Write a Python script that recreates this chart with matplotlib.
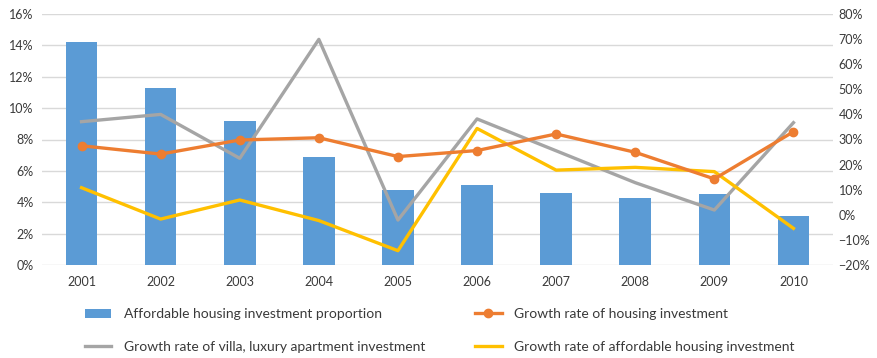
# affordable housing investment share vs. growth rates, 2001-2010

import numpy as np
import matplotlib.pyplot as plt
from matplotlib.ticker import PercentFormatter

plt.rcParams['font.family'] = ['Lato', 'DejaVu Sans']

years = ['2001', '2002', '2003', '2004', '2005', '2006', '2007', '2008', '2009', '2010']
affordable_share = [14.2, 11.3, 9.2, 6.9, 4.8, 5.1, 4.6, 4.3, 4.5, 3.1]
housing_growth = [27.5, 24.2, 29.8, 30.7, 23.2, 25.6, 32.2, 24.9, 14.3, 33.1]
villa_growth = [37.1, 40.0, 22.5, 69.9, -2.1, 38.2, 25.5, 12.8, 1.9, 36.7]
affordable_growth = [10.8, -1.7, 5.9, -2.3, -14.3, 34.4, 17.8, 18.9, 17.2, -5.4]

blue = '#5B9BD5'
orange = '#ED7D31'
grey = '#A5A5A5'
gold = '#FFC000'
text_col = '#3A3A3A'

fig = plt.figure(figsize=(8.78, 3.58), dpi=100)
ax = fig.add_axes([42/878, 93/358, 791/878, 251/358])
ax2 = ax.twinx()

x = np.arange(len(years))
b = ax.bar(x, affordable_share, width=0.4, color=blue, zorder=2,
           label='Affordable housing investment proportion')

l1, = ax2.plot(x, housing_growth, color=orange, lw=2.4, marker='o', ms=6,
               label='Growth rate of housing investment', zorder=4)
l2, = ax2.plot(x, villa_growth, color=grey, lw=2.4,
               label='Growth rate of villa, luxury apartment investment', zorder=3)
l3, = ax2.plot(x, affordable_growth, color=gold, lw=2.4,
               label='Growth rate of affordable housing investment', zorder=3)

ax.set_xlim(-0.5, len(years) - 0.5)
ax.set_ylim(0, 16)
ax.set_yticks(np.arange(0, 17, 2))
ax.yaxis.set_major_formatter(PercentFormatter(decimals=0))
ax.set_xticks(x)
ax.set_xticklabels(years)
ax.grid(axis='y', color='#D9D9D9', lw=1, zorder=0)
ax.set_axisbelow(True)

ax2.set_ylim(-20, 80)
ax2.set_yticks(np.arange(-20, 81, 10))
ax2.yaxis.set_major_formatter(PercentFormatter(decimals=0))

for a in (ax, ax2):
    for s in a.spines.values():
        s.set_visible(False)
    a.tick_params(length=0, labelsize=9, colors=text_col)
ax.tick_params(axis='x', pad=8)
ax.tick_params(axis='y', pad=6)
ax2.tick_params(axis='y', pad=4)

# legend filled column-wise: bar + villa on the left, housing + affordable on the right
fig.legend(handles=[b, l2, l1, l3], loc='lower left', bbox_to_anchor=(78/878, -0.005),
           ncol=2, frameon=False, fontsize=10, labelcolor=text_col,
           columnspacing=3.6, handlelength=1.9, handleheight=0.6,
           handletextpad=0.9, labelspacing=1.5, borderaxespad=0.1)

fig.savefig('out.png', dpi=100)
